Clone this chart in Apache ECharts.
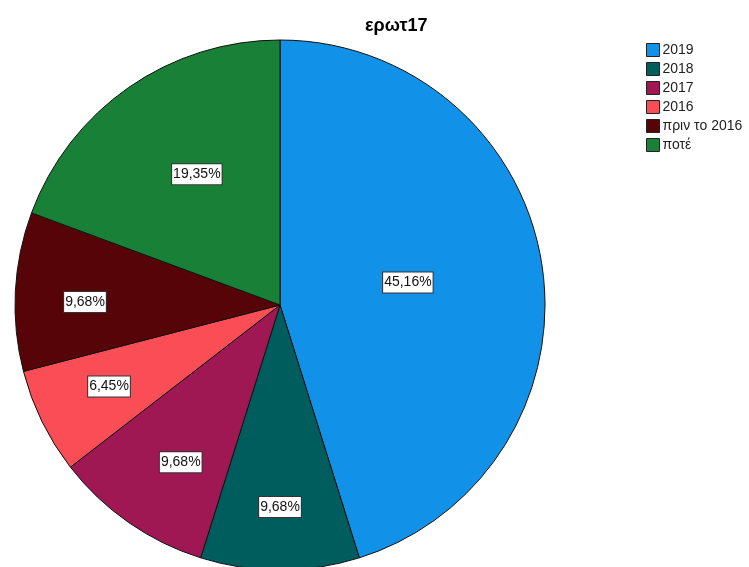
<!DOCTYPE html>
<html>
<head>
<meta charset="utf-8">
<script src="https://cdn.jsdelivr.net/npm/echarts@6/dist/echarts.min.js"></script>
<style>
  html, body { margin: 0; padding: 0; background: #fff; }
  #chart { width: 749px; height: 567px; }
</style>
</head>
<body>
<div id="chart"></div>
<script>
// Answers to question 17 (percent of respondents)
const categories = ['2019', '2018', '2017', '2016', 'πριν το 2016', 'ποτέ'];
const percentages = [45.16, 9.68, 9.68, 6.45, 9.68, 19.35];
const sliceColors = ['#1192e8', '#005d5d', '#9f1853', '#fa4d56', '#570408', '#198038'];
// where each value label sits: share of the radius, and a small turn (degrees, clockwise)
const labelDepth = [0.49, 0.762, 0.702, 0.715, 0.736, 0.585];
const labelTurn = [-1.3, 0, -2.6, 0.6, -2.0, 2.4];

const FONT = '"Liberation Sans", Arial, sans-serif';
const pieCenter = [280, 305];
const pieRadius = 265;

const chart = echarts.init(document.getElementById('chart'), null, { renderer: 'canvas' });

chart.setOption({
  backgroundColor: '#ffffff',
  animation: false,
  color: sliceColors,
  title: {
    text: 'ερωτ17',
    left: 365,
    top: 17,
    padding: 0,
    textStyle: { fontFamily: FONT, fontSize: 18, fontWeight: 'bold', color: '#000' }
  },
  legend: {
    orient: 'vertical',
    left: 646,
    top: 43,
    padding: 0,
    itemWidth: 13,
    itemHeight: 13,
    itemGap: 5,
    icon: 'rect',
    selectedMode: false,
    data: categories,
    itemStyle: { borderColor: '#222', borderWidth: 1 },
    textStyle: { fontFamily: FONT, fontSize: 14, lineHeight: 14, color: '#222', padding: [0, 0, 0, -2] }
  },
  series: [{
    name: 'ερωτ17',
    type: 'pie',
    center: pieCenter,
    radius: pieRadius,
    startAngle: 90,
    clockwise: true,
    avoidLabelOverlap: false,
    itemStyle: { borderColor: '#111', borderWidth: 1 },
    emphasis: { disabled: true },
    labelLine: { show: false },
    label: {
      show: true,
      position: 'inside',
      fontFamily: FONT,
      fontSize: 14,
      lineHeight: 15,
      color: '#111',
      backgroundColor: '#ffffff',
      borderColor: '#333',
      borderWidth: 1,
      padding: [3, 1, 2, 1],
      formatter: p => p.value.toFixed(2).replace('.', ',') + '%'
    },
    // move each label along its slice's direction, then turn it slightly
    labelLayout: function (p) {
      const r = p.labelRect;
      const lx = r.x + r.width / 2;
      const ly = r.y + r.height / 2;
      const vx = lx - pieCenter[0];
      const vy = ly - pieCenter[1];
      const len = Math.sqrt(vx * vx + vy * vy) || 1;
      const t = labelTurn[p.dataIndex] * Math.PI / 180;
      const ux = (vx * Math.cos(t) - vy * Math.sin(t)) / len;
      const uy = (vx * Math.sin(t) + vy * Math.cos(t)) / len;
      const d = labelDepth[p.dataIndex] * pieRadius;
      return { dx: pieCenter[0] + ux * d - lx, dy: pieCenter[1] + uy * d - ly };
    },
    data: categories.map((c, i) => ({ name: c, value: percentages[i] }))
  }]
});
</script>
</body>
</html>
